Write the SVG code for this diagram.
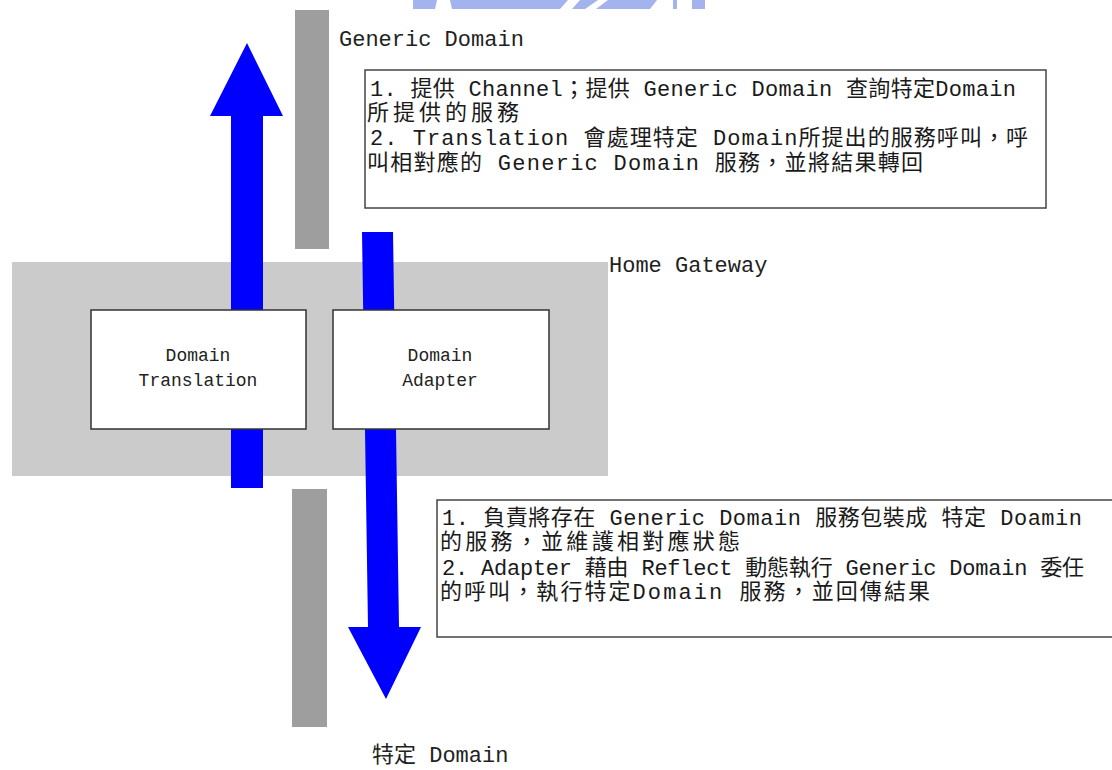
<svg xmlns="http://www.w3.org/2000/svg" width="1112" height="770" viewBox="0 0 1112 770">
  <style>
    .lbl { font-family: "Liberation Mono", "Noto Sans CJK TC", monospace; fill: #222; }
    .big { font-size: 22px; }
    .node-text { font-size: 18px; text-anchor: middle; }
    .note { font-family: "Liberation Mono", "Noto Sans CJK TC", monospace; font-size: 22px; fill: #1a1a1a; }
    .bar { fill: #9e9e9e; }
    .flow { fill: #0000ff; }
    .box { fill: #ffffff; stroke: #333; stroke-width: 1.5; }
    .notebox { fill: #ffffff; stroke: #444; stroke-width: 1.5; }
  </style>

  <rect width="1112" height="770" fill="#ffffff"/>

  <!-- faint logo strip along the top edge -->
  <g id="logo-strip" fill="#a3b3ee">
    <polygon points="413,0 437,0 435,9 413,9"/>
    <polygon points="450,0 568,0 560,9 452,9"/>
    <polygon points="580,0 598,0 585,9 572,9"/>
    <polygon points="608,0 657,0 650,9 596,9"/>
    <rect x="673" y="0" width="4" height="9"/>
    <rect x="692" y="0" width="13" height="9"/>
  </g>

  <!-- domain boundaries -->
  <g id="generic-domain-boundary">
    <rect class="bar" x="295" y="10" width="34" height="239"/>
    <text class="lbl big" x="339" y="46">Generic Domain</text>
  </g>
  <g id="specific-domain-boundary">
    <rect class="bar" x="292" y="489" width="35" height="238"/>
    <text class="lbl big" x="372" y="762">特定 Domain</text>
  </g>

  <!-- gateway region -->
  <g id="home-gateway">
    <rect x="12" y="262" width="596" height="214" fill="#cbcbcb"/>
    <text class="lbl big" x="609" y="272">Home Gateway</text>
  </g>

  <!-- request / service flows -->
  <g id="connectors">
    <polygon class="flow" points="231,488 263,488 263,116 283,116 247,43 210,116 231,116"/>
    <polygon class="flow" points="362,232 393,232 399,627 421,627 386,699 348,627 368,627"/>
  </g>

  <g id="domain-translation">
    <rect class="box" x="91" y="310" width="215" height="119"/>
    <text class="lbl node-text" x="198" y="361">Domain</text>
    <text class="lbl node-text" x="198" y="386">Translation</text>
  </g>

  <g id="domain-adapter">
    <rect class="box" x="333" y="310" width="216" height="119"/>
    <text class="lbl node-text" x="440" y="361">Domain</text>
    <text class="lbl node-text" x="440" y="386">Adapter</text>
  </g>

  <g id="translation-note">
    <rect class="notebox" x="365" y="70" width="681" height="138"/>
    <text class="note" x="370" y="96" textLength="646" lengthAdjust="spacing">1. 提供 Channel；提供 Generic Domain 查詢特定Domain</text>
    <text class="note" x="367" y="120" textLength="152" lengthAdjust="spacing">所提供的服務</text>
    <text class="note" x="370" y="145" textLength="658" lengthAdjust="spacing">2. Translation 會處理特定 Domain所提出的服務呼叫，呼</text>
    <text class="note" x="367" y="170" textLength="556" lengthAdjust="spacing">叫相對應的 Generic Domain 服務，並將結果轉回</text>
  </g>

  <g id="adapter-note">
    <rect class="notebox" x="437" y="500" width="680" height="137"/>
    <text class="note" x="442" y="525" textLength="640" lengthAdjust="spacing">1. 負責將存在 Generic Domain 服務包裝成 特定 Doamin</text>
    <text class="note" x="440" y="549" textLength="300" lengthAdjust="spacing">的服務，並維護相對應狀態</text>
    <text class="note" x="442" y="575" textLength="642" lengthAdjust="spacing">2. Adapter 藉由 Reflect 動態執行 Generic Domain 委任</text>
    <text class="note" x="440" y="599" textLength="490" lengthAdjust="spacing">的呼叫，執行特定Domain 服務，並回傳結果</text>
  </g>
</svg>
